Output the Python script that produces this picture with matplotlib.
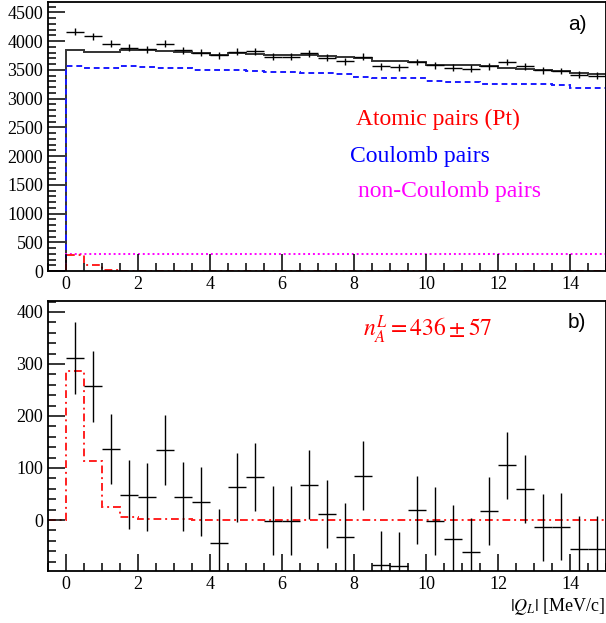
import numpy as np
import matplotlib
matplotlib.use("Agg")
import matplotlib.pyplot as plt
from matplotlib.ticker import MultipleLocator

plt.rcParams['font.family'] = ['Liberation Serif', 'DejaVu Serif']
plt.rcParams['mathtext.fontset'] = 'stix'

# bin centres (0.5 MeV/c bins)
q = np.arange(0.25, 15.0, 0.5)
edges = np.arange(-0.5, 15.01, 0.5)

# panel a) measured distribution and fit components
data_a = [4163, 4080, 3955, 3884, 3854, 3955, 3840, 3797, 3752, 3812,
          3825, 3727, 3727, 3790, 3709, 3651, 3727, 3563, 3546, 3636,
          3578, 3535, 3517, 3563, 3636, 3563, 3490, 3480, 3418, 3400]
fit_sum = [3850, 3815, 3815, 3850, 3845, 3825, 3815, 3790, 3765, 3790,
           3775, 3760, 3750, 3760, 3740, 3720, 3700, 3660, 3650, 3630,
           3590, 3585, 3590, 3560, 3525, 3520, 3495, 3475, 3450, 3435]
coulomb = [3563, 3535, 3535, 3560, 3545, 3535, 3530, 3495, 3490, 3490,
           3480, 3470, 3460, 3450, 3440, 3436, 3380, 3365, 3360, 3355,
           3300, 3295, 3290, 3260, 3255, 3250, 3245, 3240, 3190, 3186]
non_coulomb = [290] * 30
atomic = [287, 113, 25, 6, 2.5, 1.5, 1, 0.5, 0.5, 0.5,
          0.3, 0.3, 0.3, 0.2, 0.2, 0.2, 0.2, 0.1, 0.1, 0.1,
          0.1, 0.1, 0.1, 0.1, 0.1, 0.1, 0.1, 0.1, 0.1, 0.1]

# panel b) residual (data - Coulomb - non-Coulomb)
data_b = [311, 257, 137, 49, 44, 134, 45, 35, -45, 63,
          83, -1, -1, 68, 11, -33, 85, -86, -88, 19,
          -2, -37, -61, 17, 105, 60, -14, -13, -56, -56]
err_b = [69, 68, 67, 67, 66, 67, 66, 66, 66, 66,
         66, 66, 66, 66, 65, 65, 66, 65, 65, 66,
         65, 65, 65, 65, 65, 65, 64, 64, 63, 63]

fig = plt.figure(figsize=(6.06, 6.23), dpi=100)
ax1 = fig.add_axes([48/606, 1 - 271/623, 1 - 48/606, 269/623])
ax2 = fig.add_axes([48/606, 1 - 571/623, 1 - 48/606, 270/623])


def steps(vals):
    return np.concatenate([[0], vals])


def style(ax):
    for s in ax.spines.values():
        s.set_linewidth(1.3)
    ax.tick_params(which='both', direction='in', top=False, right=False,
                   labelsize=13, width=1.1)
    ax.tick_params(which='major', length=12)
    ax.tick_params(which='minor', length=6)
    ax.xaxis.set_major_locator(MultipleLocator(2))
    ax.xaxis.set_minor_locator(MultipleLocator(0.5))
    ax.set_xlim(-0.5, 15)


# ---- panel a
ax1.stairs(steps(fit_sum), edges, color='#333333', lw=1.4)
ax1.stairs(steps(coulomb), edges, color='#1a1aff', lw=1.4, ls=(0, (3, 2)))
ax1.stairs(steps(non_coulomb), edges, color='#ff00ff', lw=1.4, ls=(0, (1, 1.5)))
ax1.stairs(steps(atomic), edges, color='#ff2020', lw=1.4, ls=(0, (4, 2, 1, 2)))
ax1.errorbar(q, data_a, xerr=0.25, yerr=np.sqrt(data_a), fmt='none',
             ecolor='black', elinewidth=1.0, capsize=0)
style(ax1)
ax1.set_ylim(0, 4680)
ax1.yaxis.set_major_locator(MultipleLocator(500))
ax1.yaxis.set_minor_locator(MultipleLocator(100))
ax1.text(10.33, 2633, 'Atomic pairs (Pt)', color='#ff0000', fontsize=17,
         ha='center', va='center')
ax1.text(9.83, 1988, 'Coulomb pairs', color='#0000ff', fontsize=17,
         ha='center', va='center')
ax1.text(10.64, 1378, 'non-Coulomb pairs', color='#ff00ff', fontsize=17,
         ha='center', va='center')
ax1.text(0.948, 0.915, 'a)', transform=ax1.transAxes, fontsize=15,
         family='Liberation Sans', ha='center', va='center')

# ---- panel b
ax2.stairs(steps(atomic), edges, color='#ff2020', lw=1.4, ls=(0, (4, 2, 1, 2)))
ax2.errorbar(q, data_b, xerr=0.25, yerr=err_b, fmt='none',
             ecolor='black', elinewidth=1.0, capsize=0)
style(ax2)
ax2.set_ylim(-98, 421)
ax2.yaxis.set_major_locator(MultipleLocator(100))
ax2.yaxis.set_minor_locator(MultipleLocator(20))
ax2.text(0.681, 0.893, r'$n_A^L = 436 \pm 57$', transform=ax2.transAxes,
         color='#ff0000', fontsize=17, ha='center', va='center')
ax2.text(0.948, 0.922, 'b)', transform=ax2.transAxes, fontsize=15,
         family='Liberation Sans', ha='center', va='center')

fig.text(0.998, 0.026, r'$|Q_L|$ [MeV/c]', fontsize=13, ha='right', va='center')

fig.savefig('out.png', dpi=100)
